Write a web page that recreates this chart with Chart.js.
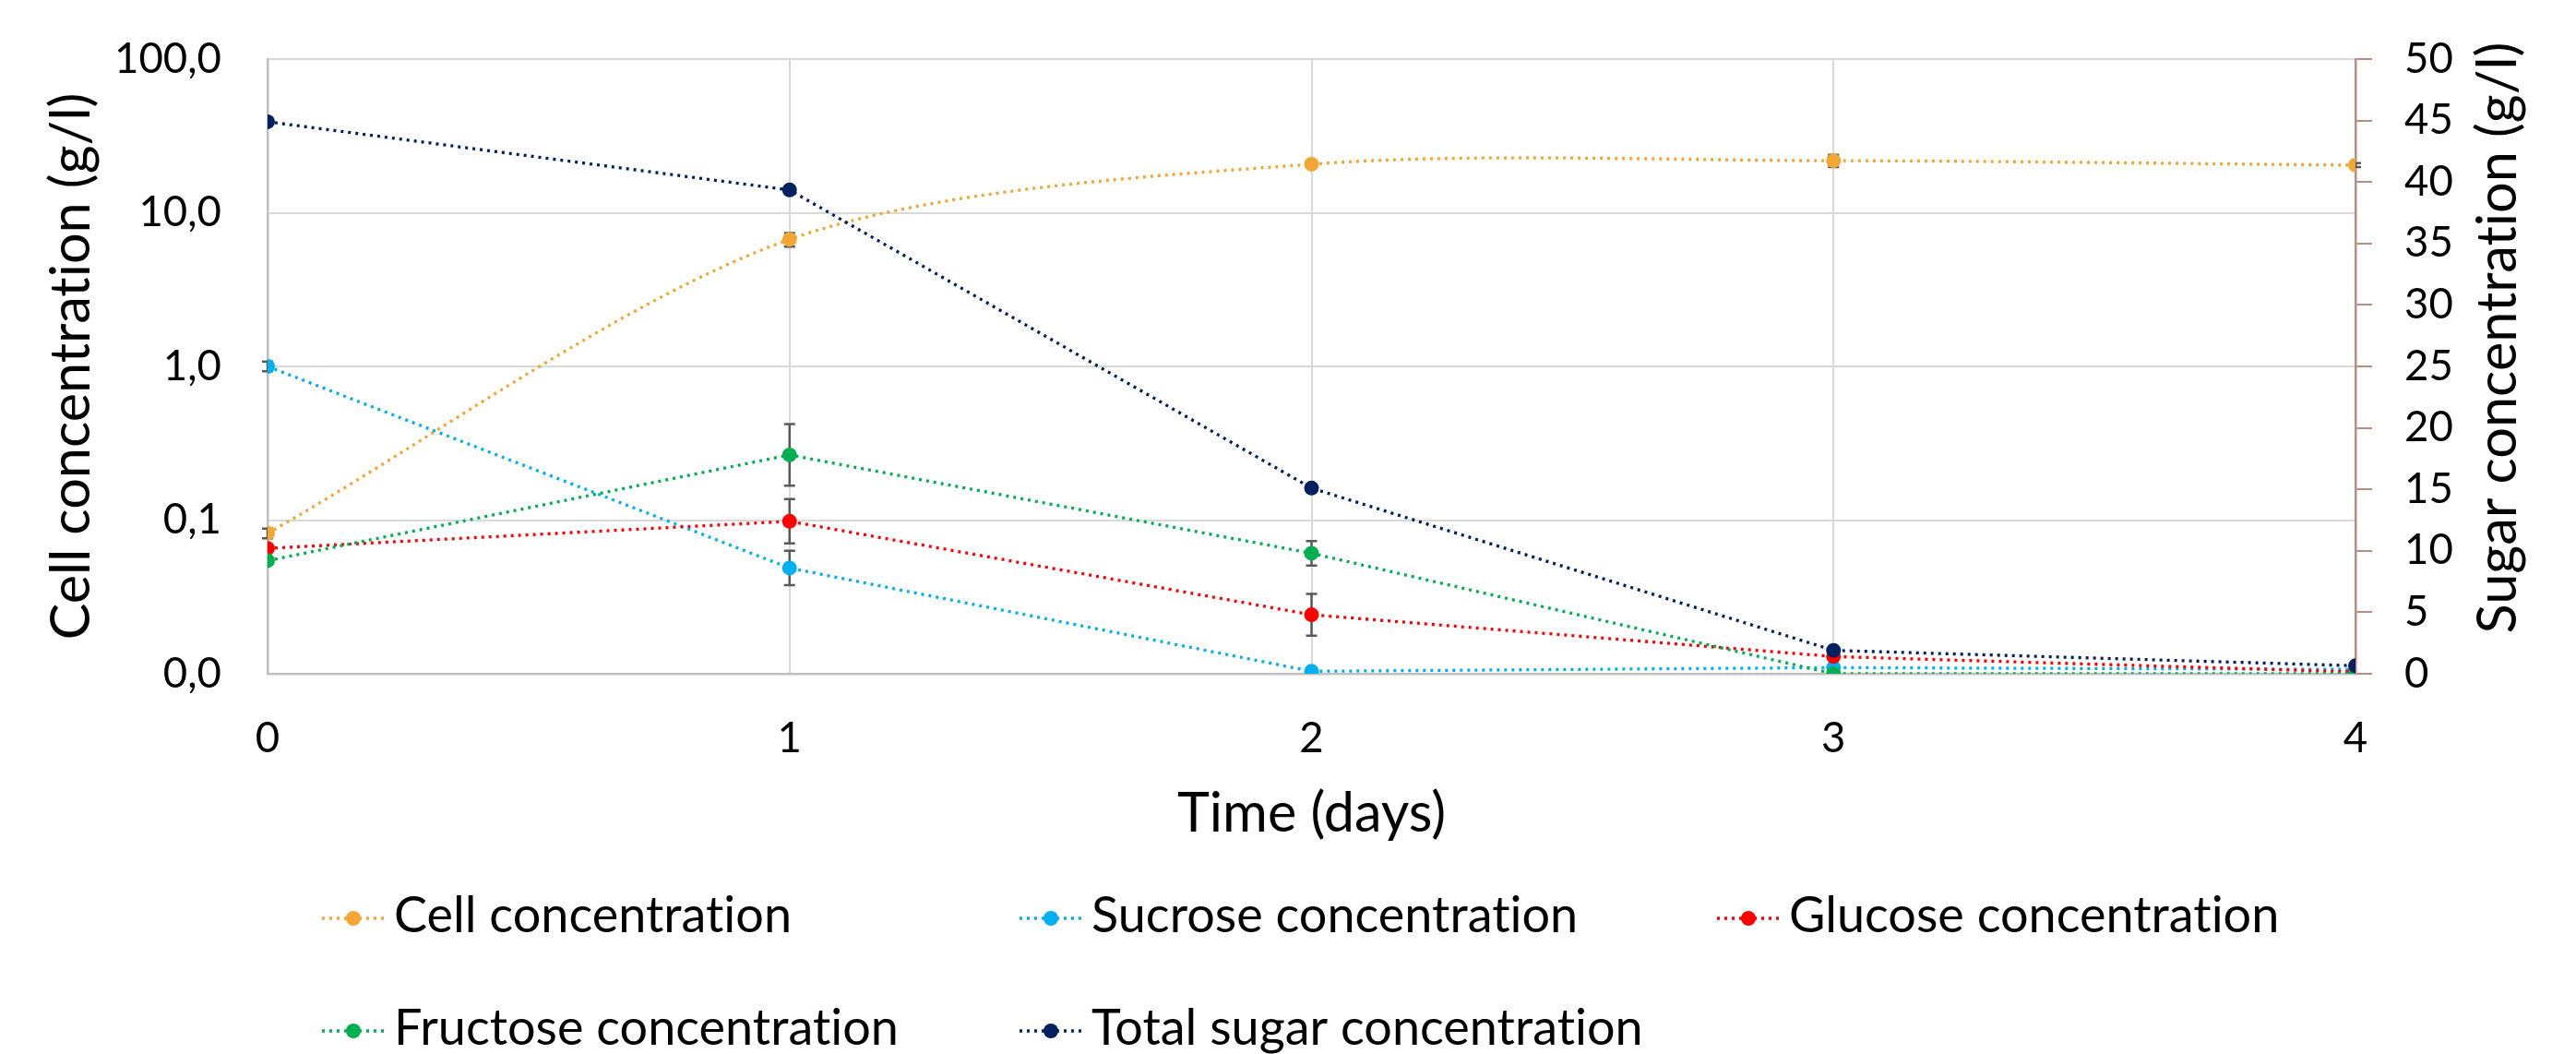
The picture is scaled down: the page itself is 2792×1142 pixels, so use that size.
<!DOCTYPE html>
<html>
<head>
<meta charset="utf-8">
<script src="https://cdn.jsdelivr.net/npm/chart.js@4.4.1/dist/chart.umd.min.js"></script>
<style>
  html, body { margin: 0; padding: 0; background: #ffffff; }
  #wrap { width: 2792px; height: 1142px; position: relative; }
</style>
</head>
<body>
<div id="wrap"><canvas id="c" width="2792" height="1142"></canvas></div>
<script>
// ---------------- data ----------------
const days = [0, 1, 2, 3, 4];
const xTickLabels = ['0', '1', '2', '3', '4'];

const seriesNames = ['Cell concentration', 'Sucrose concentration', 'Glucose concentration',
                     'Fructose concentration', 'Total sugar concentration'];

const cellConc    = [0.082, 6.7, 20.7, 21.8, 20.4];
const cellErr     = [0.006, 0.68, 0.8, 2.0, 0.6];
const sucrose     = [25.0, 8.6, 0.2, 0.5, 0.35];
const sucroseErr  = [0.4, 1.4, 0, 0, 0];
const glucose     = [10.2, 12.4, 4.8, 1.4, 0.15];
const glucoseErr  = [0, 1.8, 1.7, 0, 0];
const fructose    = [9.2, 17.8, 9.8, 0.0, 0.0];
const fructoseErr = [0, 2.5, 1.0, 0, 0];
const totalSugar  = [44.9, 39.35, 15.1, 1.9, 0.65];

const leftTickValues  = [0.01, 0.1, 1, 10, 100];
const leftTickLabels  = ['0,0', '0,1', '1,0', '10,0', '100,0'];
const rightTickLabels = ['0', '5', '10', '15', '20', '25', '30', '35', '40', '45', '50'];

const xTitle = 'Time (days)';
const leftTitle = 'Cell concentration (g/l)';
const rightTitle = 'Sugar concentration (g/l)';

// ---------------- styling ----------------
const FAMILY = 'Lato, "Open Sans", sans-serif';
const mctx = document.createElement('canvas').getContext('2d');
function fitSize(text, target) {
  mctx.font = '100px ' + FAMILY;
  try { mctx.letterSpacing = '0.01px'; } catch (e) {}
  return 100 * target / mctx.measureText(text).width;
}
const titleSize  = fitSize(xTitle, 291);
const legendSize = fitSize(seriesNames[0], 431);
const tickSize   = fitSize('100,0', 116);

const colors = ['#F2A634', '#00B0F0', '#FF0000', '#00B050', '#002060'];
const tensions = [0.3, 0, 0, 0, 0];
const GRID = '#D9D9D9';
const AXIS = '#BFBFBF';
const RAXIS = '#BA8C80';
const ERRC = '#595959';
const DASH = [3, 5];

function pts(vals) { return days.map((d, i) => ({ x: d, y: vals[i] })); }

const valueSets = [cellConc, sucrose, glucose, fructose, totalSugar];
const errorSets = [cellErr, sucroseErr, glucoseErr, fructoseErr, null];
const axisIds   = ['y', 'y1', 'y1', 'y1', 'y1'];

const datasets = valueSets.map((vals, k) => ({
  label: seriesNames[k],
  data: pts(vals),
  errors: errorSets[k],
  yAxisID: axisIds[k],
  order: valueSets.length - k,
  borderColor: colors[k],
  backgroundColor: colors[k],
  borderWidth: 3.3,
  borderDash: DASH,
  borderCapStyle: 'butt',
  tension: tensions[k],
  pointRadius: 8,
  pointHoverRadius: 8,
  pointBorderWidth: 0,
  pointBackgroundColor: colors[k],
  pointBorderColor: colors[k],
  fill: false
}));

// error bars drawn beneath each series' markers
const errorBars = {
  id: 'errorBars',
  beforeDatasetDraw(chart, args) {
    const ds = chart.data.datasets[args.index];
    if (!ds.errors) return;
    const yScale = chart.scales[ds.yAxisID];
    const ctx = chart.ctx;
    ctx.save();
    ctx.strokeStyle = ERRC;
    ctx.lineWidth = 2.5;
    ctx.setLineDash([]);
    args.meta.data.forEach((pt, i) => {
      const e = ds.errors[i];
      if (!e) return;
      const v = ds.data[i].y;
      const yT = yScale.getPixelForValue(v + e);
      const yB = yScale.getPixelForValue(Math.max(v - e, yScale.min));
      ctx.beginPath();
      ctx.moveTo(pt.x, yT); ctx.lineTo(pt.x, yB);
      ctx.moveTo(pt.x - 6, yT); ctx.lineTo(pt.x + 6, yT);
      ctx.moveTo(pt.x - 6, yB); ctx.lineTo(pt.x + 6, yB);
      ctx.stroke();
    });
    ctx.restore();
  }
};

function drawText(ctx, text, x, y, size, rot) {
  ctx.save();
  ctx.fillStyle = '#000';
  ctx.font = size + 'px ' + FAMILY;
  try { ctx.letterSpacing = '0.01px'; } catch (e) {}
  ctx.textAlign = rot ? 'center' : 'left';
  ctx.textBaseline = 'alphabetic';
  ctx.translate(x, y);
  if (rot) ctx.rotate(rot);
  ctx.fillText(text, 0, 0);
  ctx.restore();
}

// axis titles and legend in fixed columns
const extras = {
  id: 'extras',
  afterDraw(chart) {
    const ctx = chart.ctx;
    const ca = chart.chartArea;
    ctx.save();
    ctx.fillStyle = '#000';
    ctx.font = titleSize + 'px ' + FAMILY;
    try { ctx.letterSpacing = '0.01px'; } catch (e) {}
    ctx.textAlign = 'center';
    ctx.textBaseline = 'alphabetic';
    ctx.fillText(xTitle, (ca.left + ca.right) / 2, 901);
    ctx.restore();
    drawText(ctx, leftTitle, 97, (ca.top + ca.bottom) / 2, titleSize, -Math.PI / 2);
    drawText(ctx, rightTitle, 2727, 366, titleSize, -Math.PI / 2);

    chart.data.datasets.forEach((ds, i) => {
      const col = i % 3, row = Math.floor(i / 3);
      const x0 = 349 + col * 756;
      const y = 995 + row * 122;
      ctx.save();
      ctx.strokeStyle = ds.borderColor;
      ctx.lineWidth = 3.3;
      ctx.setLineDash(DASH);
      ctx.lineCap = 'butt';
      ctx.beginPath();
      ctx.moveTo(x0, y); ctx.lineTo(x0 + 67, y);
      ctx.stroke();
      ctx.setLineDash([]);
      ctx.fillStyle = ds.borderColor;
      ctx.beginPath();
      ctx.arc(x0 + 34, y, 8, 0, Math.PI * 2);
      ctx.fill();
      ctx.restore();
      drawText(ctx, ds.label, x0 + 78, y + 15, legendSize, 0);
    });
  }
};

new Chart(document.getElementById('c'), {
  type: 'line',
  data: { datasets },
  plugins: [errorBars, extras],
  options: {
    responsive: false,
    animation: false,
    devicePixelRatio: 1,
    layout: { padding: { top: 64, bottom: 222, left: 0, right: 0 } },
    plugins: { legend: { display: false }, tooltip: { enabled: false } },
    scales: {
      x: {
        type: 'linear', min: 0, max: 4,
        afterBuildTicks: s => { s.ticks = days.map(v => ({ value: v })); },
        ticks: {
          callback: (v, i) => xTickLabels[i],
          font: { family: FAMILY, size: tickSize }, color: '#000',
          padding: 800 - 730 - tickSize * 0.6, maxRotation: 0, autoSkip: false
        },
        grid: {
          color: ctx => (ctx.index === days.length - 1 ? 'rgba(0,0,0,0)' : GRID),
          lineWidth: 2, drawTicks: false
        },
        border: { color: AXIS, width: 2.5 },
        afterFit: s => { s.height = 190; s.paddingLeft = 0; s.paddingRight = 0; }
      },
      y: {
        type: 'logarithmic', position: 'left', min: 0.01, max: 100,
        afterBuildTicks: s => { s.ticks = leftTickValues.map(v => ({ value: v })); },
        ticks: {
          callback: (v, i) => leftTickLabels[i],
          font: { family: FAMILY, size: tickSize }, color: '#000', padding: 50
        },
        grid: { color: GRID, lineWidth: 2, drawTicks: false },
        border: { color: AXIS, width: 2.5 },
        afterFit: s => { s.width = 290; s.paddingTop = 0; s.paddingBottom = 0; }
      },
      y1: {
        type: 'linear', position: 'right', min: 0, max: 50,
        ticks: {
          stepSize: 5,
          callback: (v, i) => rightTickLabels[i],
          font: { family: FAMILY, size: tickSize }, color: '#000', padding: 35
        },
        grid: { drawOnChartArea: false, drawTicks: true, tickLength: 18, color: RAXIS, lineWidth: 2 },
        border: { color: RAXIS, width: 2.5 },
        afterFit: s => { s.width = 239; s.paddingTop = 0; s.paddingBottom = 0; }
      }
    }
  }
});
</script>
</body>
</html>
